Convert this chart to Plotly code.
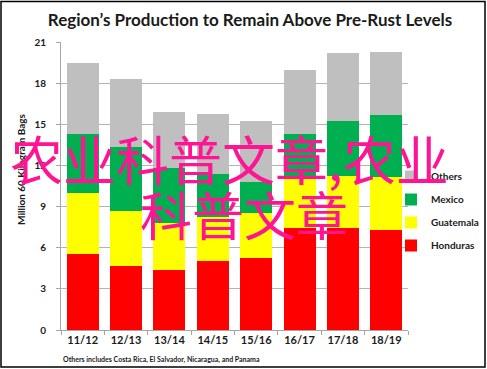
import plotly.graph_objects as go

years = ["11/12", "12/13", "13/14", "14/15", "15/16", "16/17", "17/18", "18/19"]
honduras = [5.55, 4.67, 4.35, 5.03, 5.23, 7.46, 7.46, 7.29]
guatemala = [4.42, 4.01, 3.48, 3.19, 3.33, 3.74, 3.77, 3.89]
mexico = [4.30, 4.64, 3.96, 3.18, 2.26, 3.12, 4.01, 4.52]
others = [5.18, 4.98, 4.13, 4.35, 4.42, 4.64, 4.99, 4.58]
y_ticks = [0, 3, 6, 9, 12, 15, 18, 21]

series = [
    ("Honduras", honduras, "#ff0000"),
    ("Guatemala", guatemala, "#ffff00"),
    ("Mexico", mexico, "#00b050"),
    ("Others", others, "#bfbfbf"),
]

W, H = 487, 369
L, R, T, B = 61, 408, 42, 330

def px_x(px):
    return (px - L) / (R - L)

def px_y(py):
    return (B - py) / (B - T)

fig = go.Figure()
for i, (name, vals, col) in enumerate(series):
    fig.add_trace(go.Bar(x=years, y=vals, name=name, marker=dict(color=col, line=dict(width=0)),
                         legendgroup=name, legendrank=len(series) - i))

FONT = "Lato"
fig.update_layout(
    width=W, height=H,
    margin=dict(l=L, r=W - R, t=T, b=H - B, pad=0, autoexpand=False),
    paper_bgcolor="white", plot_bgcolor="white",
    barmode="stack", bargap=0.26,
    font=dict(family=FONT, color="#1a1a1a"),
    title=dict(text="<b>Region’s Production to Remain Above Pre-Rust Levels</b>",
               x=250 / W, xanchor="center", y=1 - 20 / H, yanchor="middle",
               font=dict(size=17, family=FONT, color="#1a1a1a")),
    legend=dict(x=px_x(391), xanchor="left", y=px_y(162), yanchor="top",
                traceorder="grouped", tracegroupgap=4,
                font=dict(size=10, family=FONT, color="#1a1a1a", weight="bold"),
                bgcolor="rgba(0,0,0,0)", itemwidth=30),
    showlegend=True,
)
fig.update_xaxes(showline=True, linecolor="#a6a6a6", linewidth=1,
                 ticks="outside", tickson="boundaries", ticklen=4, tickcolor="#a6a6a6",
                 tickvals=years, ticktext=["<b>%s</b>" % y for y in years], tickangle=0,
                 automargin=False,
                 tickfont=dict(size=11, family=FONT, color="#1a1a1a"),
                 showgrid=False, fixedrange=True)
fig.update_yaxes(range=[0, 21], tickvals=y_ticks, ticktext=["<b>%d</b>" % v for v in y_ticks],
                 showline=True, linecolor="#a6a6a6", linewidth=1, automargin=False,
                 ticks="outside", ticklen=4, tickcolor="#a6a6a6",
                 tickfont=dict(size=10, family=FONT, color="#1a1a1a"),
                 ticklabelstandoff=8,
                 showgrid=True, gridcolor="#b3b3b3", gridwidth=1, zeroline=False, fixedrange=True)

# y-axis title
fig.add_annotation(text="<b>Million 60 Kilogram Bags</b>", xref="paper", yref="paper",
                   x=px_x(21), y=px_y(169), textangle=-90, showarrow=False,
                   xanchor="center", yanchor="middle",
                   font=dict(size=10, family=FONT, color="#1a1a1a"))
# footnote
fig.add_annotation(text="<b>Others includes Costa Rica, El Salvador, Nicaragua, and Panama</b>",
                   xref="paper", yref="paper", x=px_x(61), y=px_y(359), showarrow=False,
                   xanchor="left", yanchor="middle",
                   font=dict(size=7, family=FONT, color="#1a1a1a"))
# watermark text
WM = "#ff1493"
fig.add_annotation(text="农业科普文章,农业", xref="paper", yref="paper",
                   x=px_x(229), y=px_y(158), showarrow=False, xanchor="center", yanchor="middle",
                   font=dict(size=53, family="Noto Sans CJK SC", color=WM))
fig.add_annotation(text="科普文章", xref="paper", yref="paper",
                   x=px_x(244), y=px_y(213), showarrow=False, xanchor="center", yanchor="middle",
                   font=dict(size=52, family="Noto Sans CJK SC", color=WM))
# outer frame
fig.add_shape(type="rect", xref="paper", yref="paper",
              x0=px_x(1), x1=px_x(485), y0=px_y(367), y1=px_y(1.5),
              line=dict(color="black", width=1.5), fillcolor="rgba(0,0,0,0)", layer="above")

fig.write_html("out.html", config={"displayModeBar": False},
               post_script="document.body.style.margin='0';document.body.style.overflow='hidden';")
